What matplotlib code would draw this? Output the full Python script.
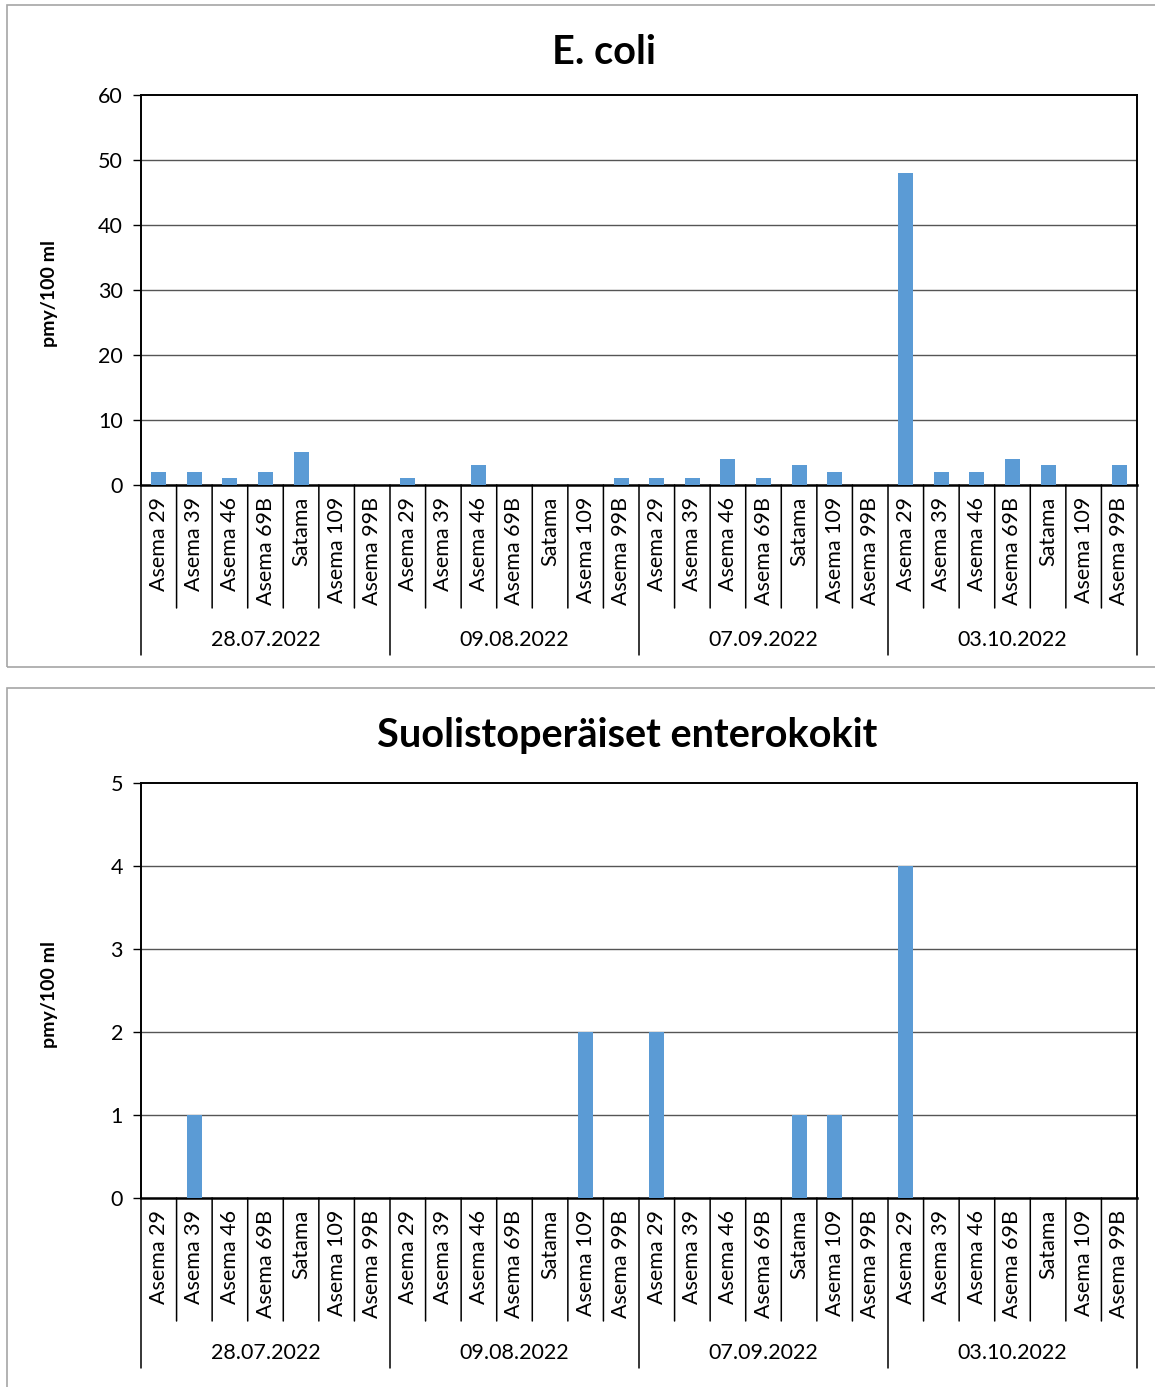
import numpy as np
import matplotlib
matplotlib.use('Agg')
import matplotlib.pyplot as plt
from matplotlib.patches import Rectangle
from matplotlib.transforms import offset_copy

plt.rcParams['font.family'] = ['Lato', 'DejaVu Sans']

dates = ['28.07.2022', '09.08.2022', '07.09.2022', '03.10.2022']
stations = ['Asema 29', 'Asema 39', 'Asema 46', 'Asema 69B',
            'Satama', 'Asema 109', 'Asema 99B']

ecoli = [2, 2, 1, 2, 5, 0, 0,
         1, 0, 3, 0, 0, 0, 1,
         1, 1, 4, 1, 3, 2, 0,
         48, 2, 2, 4, 3, 0, 3]
entero = [0, 1, 0, 0, 0, 0, 0,
          0, 0, 0, 0, 0, 2, 0,
          2, 0, 0, 0, 1, 1, 0,
          4, 0, 0, 0, 0, 0, 0]

W, H = 1155, 1387
fig = plt.figure(figsize=(W / 100, H / 100), dpi=100)

bar_color = '#5B9BD5'
grid_color = '#555555'


def px_axes(left, top, right, bottom):
    return fig.add_axes([left / W, 1 - bottom / H,
                         (right - left) / W, (bottom - top) / H])


def panel(top, bottom):
    # gray frame around each chart
    fig.patches.append(Rectangle((7 / W, 1 - bottom / H), (1160 - 7) / W,
                                 (bottom - top) / H, transform=fig.transFigure,
                                 fill=False, edgecolor='#A6A6A6', lw=1.2))


def draw_chart(ax, values, title, ymax, ystep, title_x, title_y):
    n = len(values)
    x = np.arange(n)
    ax.bar(x, values, width=0.42, color=bar_color, zorder=3)
    ax.set_xlim(-0.5, n - 0.5)
    ax.set_ylim(0, ymax)
    ax.set_yticks(np.arange(0, ymax + 0.1, ystep))
    ax.tick_params(axis='y', labelsize=15.5, length=6, width=1,
                   direction='out', pad=7)
    ax.set_xticks([])
    for t in ax.get_yticks()[1:-1]:
        ax.axhline(t, color=grid_color, lw=1.0, zorder=1)
    for s in ['left', 'right', 'top']:
        ax.spines[s].set_linewidth(1.4)
        ax.spines[s].set_color('black')
    ax.spines['bottom'].set_linewidth(1.8)
    ax.set_ylabel('pmy/100 ml', fontsize=14, fontweight='bold')
    ax.yaxis.set_label_coords(-0.083, 0.49)

    tr = ax.get_xaxis_transform()
    # station labels
    for i in range(n):
        ax.text(i, 0, stations[i % len(stations)], rotation=90,
                ha='center', va='top', fontsize=15.5,
                transform=offset_copy(tr, fig, y=-12, units='dots'))
    # separators
    for i in range(n + 1):
        depth = 170 if i % len(stations) == 0 else 123
        ax.annotate('', xy=(i - 0.5, 0), xycoords=tr,
                    xytext=(0, -depth), textcoords='offset pixels',
                    arrowprops=dict(arrowstyle='-', color='black', lw=1.1,
                                    shrinkA=0, shrinkB=0))
    # date labels
    k = len(stations)
    for j, d in enumerate(dates):
        ax.text(j * k + (k - 1) / 2, 0, d, ha='center', va='center',
                fontsize=15.5,
                transform=offset_copy(tr, fig, y=-155, units='dots'))
    fig.text(title_x / W, 1 - title_y / H, title, ha='center', va='center',
             fontsize=28.5, fontweight='bold')


panel(5, 667)
panel(688, 1400)

ax1 = px_axes(141, 95, 1137, 485)
draw_chart(ax1, ecoli, 'E. coli', 60, 10, 604, 52)

ax2 = px_axes(141, 783, 1137, 1198)
draw_chart(ax2, entero, 'Suolistoperäiset enterokokit', 5, 1, 627, 736)

fig.savefig('out.png', dpi=100)
